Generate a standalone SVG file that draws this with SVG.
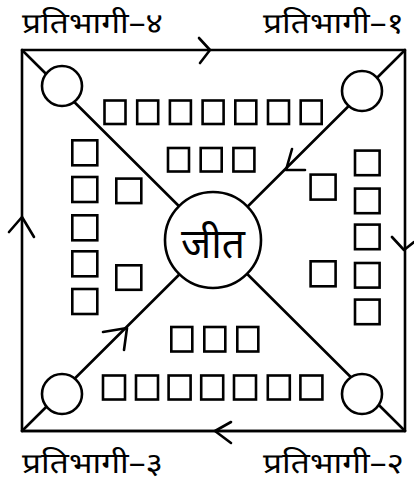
<svg xmlns="http://www.w3.org/2000/svg" width="414" height="482" viewBox="0 0 414 482">
<style>
.ln{stroke:#000;stroke-width:2.6;fill:none;stroke-linecap:round;stroke-linejoin:round}
.c{stroke:#000;stroke-width:2.6;fill:#fff}
.sq{stroke:#000;stroke-width:2.6;fill:#fff}
.lbl{font-family:"Noto Sans Devanagari","Noto Sans","Lohit Devanagari","FreeSans",sans-serif;font-size:28px;fill:#000}
.ctr{font-family:"Noto Sans Devanagari","Noto Sans","Lohit Devanagari","FreeSans",sans-serif;font-size:42px;fill:#000}
</style>
<rect width="414" height="482" fill="#fff"/>
<g id="connectors">
<path class="ln" d="M22,50 H405 V431 H22 Z"/>
<path class="ln" d="M22,431 H405" stroke-width="4"/>
<path class="ln" d="M22,50 L405,431"/>
<path class="ln" d="M405,50 L22,431"/>
<path class="ln" d="M199,38 L210,50 L200,63"/>
<path class="ln" d="M9,232 L22,217 L34,237"/>
<path class="ln" d="M392,237 L404,250 L414,242"/>
<path class="ln" d="M231,422 L215,431 L231,443"/>
<path class="ln" d="M292,149 L286,170 L305,170"/>
<path class="ln" d="M103,332 L127,328 L124,350"/>
</g>
<g id="corner1"><circle class="c" cx="362" cy="91" r="20"/></g>
<g id="corner2"><circle class="c" cx="362" cy="394" r="20"/></g>
<g id="corner3"><circle class="c" cx="62" cy="394" r="20"/></g>
<g id="corner4"><circle class="c" cx="62" cy="86" r="20"/></g>
<g id="center"><circle class="c" cx="213" cy="240" r="48"/>
<text class="ctr" x="213" y="258" text-anchor="middle" textLength="64" lengthAdjust="spacingAndGlyphs">जीत</text></g>
<g id="top-squares">
<rect class="sq" x="104.5" y="100.5" width="21" height="23.5"/>
<rect class="sq" x="137.2" y="100.5" width="21" height="23.5"/>
<rect class="sq" x="169.9" y="100.5" width="21" height="23.5"/>
<rect class="sq" x="202.6" y="100.5" width="21" height="23.5"/>
<rect class="sq" x="235.3" y="100.5" width="21" height="23.5"/>
<rect class="sq" x="268" y="100.5" width="21" height="23.5"/>
<rect class="sq" x="300.7" y="100.5" width="21" height="23.5"/>
<rect class="sq" x="168" y="148" width="21" height="23.5"/>
<rect class="sq" x="200.7" y="148" width="21" height="23.5"/>
<rect class="sq" x="233.4" y="148" width="21" height="23.5"/>
</g>
<g id="bottom-squares">
<rect class="sq" x="171.3" y="327" width="21" height="24.5"/>
<rect class="sq" x="204.3" y="327" width="21" height="24.5"/>
<rect class="sq" x="237.3" y="327" width="21" height="24.5"/>
<rect class="sq" x="103" y="375.5" width="22" height="24"/>
<rect class="sq" x="136" y="375.5" width="22" height="24"/>
<rect class="sq" x="168.6" y="375.5" width="22" height="24"/>
<rect class="sq" x="201.2" y="375.5" width="22" height="24"/>
<rect class="sq" x="234" y="375.5" width="22" height="24"/>
<rect class="sq" x="267.8" y="375.5" width="22" height="24"/>
<rect class="sq" x="300.4" y="375.5" width="22" height="24"/>
</g>
<g id="left-squares">
<rect class="sq" x="72.3" y="140.3" width="25" height="25"/>
<rect class="sq" x="72.3" y="177" width="25" height="25"/>
<rect class="sq" x="72.3" y="215.3" width="25" height="25"/>
<rect class="sq" x="72.3" y="251.3" width="25" height="25"/>
<rect class="sq" x="72.3" y="289" width="25" height="25"/>
<rect class="sq" x="116.3" y="178.6" width="25" height="24.5"/>
<rect class="sq" x="116.3" y="265.3" width="25" height="24.5"/>
</g>
<g id="right-squares">
<rect class="sq" x="355" y="150.6" width="24.6" height="24.6"/>
<rect class="sq" x="355" y="188.6" width="24.6" height="24.6"/>
<rect class="sq" x="355" y="224.6" width="24.6" height="24.6"/>
<rect class="sq" x="355" y="263" width="24.6" height="24.6"/>
<rect class="sq" x="355" y="299.6" width="24.6" height="24.6"/>
<rect class="sq" x="310.6" y="174.6" width="25" height="25"/>
<rect class="sq" x="310.6" y="261.3" width="25" height="25"/>
</g>
<g id="label4"><text class="lbl" x="22" y="33" textLength="141" lengthAdjust="spacingAndGlyphs">प्रतिभागी–४</text></g>
<g id="label1"><text class="lbl" x="263" y="33" textLength="141" lengthAdjust="spacingAndGlyphs">प्रतिभागी–१</text></g>
<g id="label3"><text class="lbl" x="22" y="473" textLength="141" lengthAdjust="spacingAndGlyphs">प्रतिभागी–३</text></g>
<g id="label2"><text class="lbl" x="263" y="473" textLength="141" lengthAdjust="spacingAndGlyphs">प्रतिभागी–२</text></g>
</svg>
